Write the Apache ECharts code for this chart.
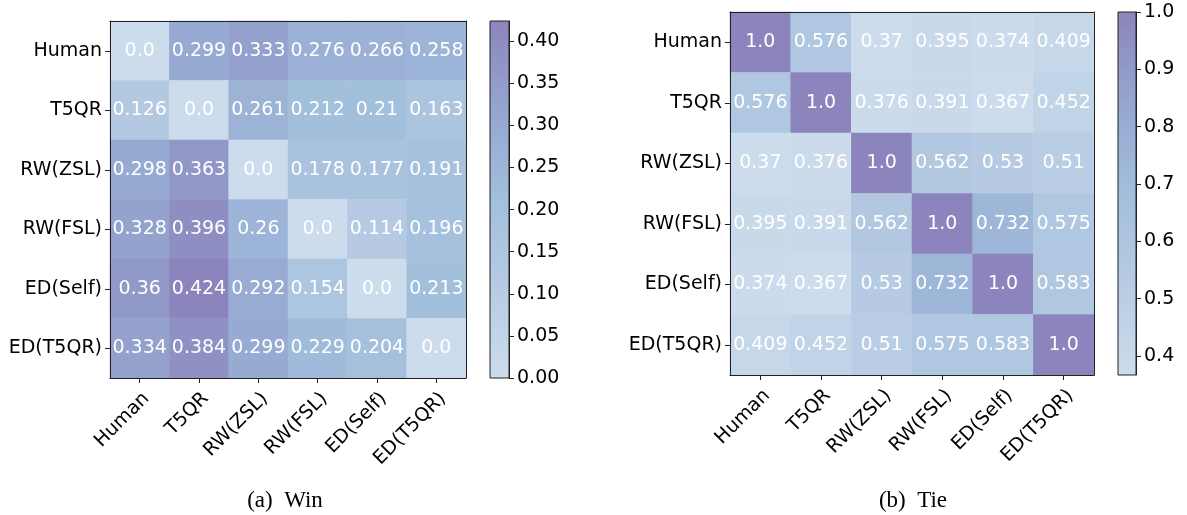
<!DOCTYPE html>
<html>
<head>
<meta charset="utf-8">
<script src="https://cdn.jsdelivr.net/npm/echarts@6/dist/echarts.min.js"></script>
<style>
html,body{margin:0;padding:0;background:#fff;}
#chart{width:1187px;height:515px;}
</style>
</head>
<body>
<div id="chart"></div>
<script>
const categories = ['Human', 'T5QR', 'RW(ZSL)', 'RW(FSL)', 'ED(Self)', 'ED(T5QR)'];

const winValues = [
  [0.0, 0.299, 0.333, 0.276, 0.266, 0.258],
  [0.126, 0.0, 0.261, 0.212, 0.21, 0.163],
  [0.298, 0.363, 0.0, 0.178, 0.177, 0.191],
  [0.328, 0.396, 0.26, 0.0, 0.114, 0.196],
  [0.36, 0.424, 0.292, 0.154, 0.0, 0.213],
  [0.334, 0.384, 0.299, 0.229, 0.204, 0.0]
];

const tieValues = [
  [1.0, 0.576, 0.37, 0.395, 0.374, 0.409],
  [0.576, 1.0, 0.376, 0.391, 0.367, 0.452],
  [0.37, 0.376, 1.0, 0.562, 0.53, 0.51],
  [0.395, 0.391, 0.562, 1.0, 0.732, 0.575],
  [0.374, 0.367, 0.53, 0.732, 1.0, 0.583],
  [0.409, 0.452, 0.51, 0.575, 0.583, 1.0]
];

const winRange = [0, 0.424];
const tieRange = [0.367, 1.0];
const winTicks = [0, 0.05, 0.10, 0.15, 0.20, 0.25, 0.30, 0.35, 0.40];
const tieTicks = [0.4, 0.5, 0.6, 0.7, 0.8, 0.9, 1.0];
const captions = ['(a)  Win', '(b)  Tie'];

const cmap = ['#ccdcec', '#b7cbe3', '#a2bfdc', '#95a6d0', '#8c85bd'];

const FONT = 'DejaVu Sans';
const FS = 19;
const AX = '#222';

function toCells(m) {
  const out = [];
  m.forEach((row, r) => row.forEach((v, c) => out.push([c, r, v])));
  return out;
}
function fmtCell(v) {
  return Number.isInteger(v) ? v.toFixed(1) : String(v);
}

function heatAxes(gridIndex) {
  const xs = [
    {
      type: 'category', gridIndex, data: categories, position: 'bottom', z: 10,
      axisLine: { show: true, lineStyle: { color: AX, width: 1 } },
      axisTick: { show: true, alignWithLabel: true, length: 5, lineStyle: { color: AX } },
      axisLabel: { rotate: 45, margin: 11, verticalAlign: 'top', fontSize: FS, fontFamily: FONT, color: '#000', interval: 0 },
      splitLine: { show: false }
    },
    {
      type: 'category', gridIndex, data: categories, position: 'top', z: 10,
      axisLine: { show: true, lineStyle: { color: AX, width: 1 } },
      axisTick: { show: false }, axisLabel: { show: false }, splitLine: { show: false }
    }
  ];
  const ys = [
    {
      type: 'category', gridIndex, data: categories, inverse: true, position: 'left', z: 10,
      axisLine: { show: true, lineStyle: { color: AX, width: 1 } },
      axisTick: { show: true, alignWithLabel: true, length: 5, lineStyle: { color: AX } },
      axisLabel: { margin: 8, fontSize: FS, fontFamily: FONT, color: '#000', interval: 0 },
      splitLine: { show: false }
    },
    {
      type: 'category', gridIndex, data: categories, inverse: true, position: 'right', z: 10,
      axisLine: { show: true, lineStyle: { color: AX, width: 1 } },
      axisTick: { show: false }, axisLabel: { show: false }, splitLine: { show: false }
    }
  ];
  return { xs, ys };
}

function cbAxes(gridIndex, range, ticks, digits) {
  const x = {
    type: 'category', gridIndex, data: ['cb'], show: false
  };
  const y = {
    type: 'value', gridIndex, min: range[0], max: range[1], position: 'right', z: 10,
    axisLine: { show: true, lineStyle: { color: AX, width: 1 } },
    axisTick: { show: true, length: 5, lineStyle: { color: AX }, customValues: ticks },
    axisLabel: { show: true, margin: 8, fontSize: FS, fontFamily: FONT, color: '#000',
      customValues: ticks, formatter: v => Number(v).toFixed(digits) },
    splitLine: { show: false }
  };
  return { x, y };
}

const h0 = heatAxes(0), h1 = heatAxes(2);
const c0 = cbAxes(1, winRange, winTicks, 2), c1 = cbAxes(3, tieRange, tieTicks, 1);

const xAxis = [h0.xs[0], h0.xs[1], c0.x, h1.xs[0], h1.xs[1], c1.x];
const yAxis = [h0.ys[0], h0.ys[1], c0.y, h1.ys[0], h1.ys[1], c1.y];

function gradStops() {
  return cmap.map((c, i) => ({ offset: i / (cmap.length - 1), color: c }));
}

function cbRender(params, api) {
  const top = api.coord([api.value(0), api.value(2)]);
  const bot = api.coord([api.value(0), api.value(1)]);
  const w = api.size([1, 0])[0];
  return {
    type: 'rect',
    shape: { x: top[0] - w / 2, y: top[1], width: w, height: bot[1] - top[1] },
    style: {
      fill: new echarts.graphic.LinearGradient(0, 1, 0, 0, gradStops()),
      stroke: AX, lineWidth: 1
    }
  };
}

const cellLabel = {
  show: true, color: '#fff', fontSize: FS, fontFamily: FONT,
  formatter: p => fmtCell(p.value[2])
};

const capStyle = { fontFamily: 'Liberation Serif', fontSize: 23, fontWeight: 'normal', color: '#000' };

const option = {
  animation: false,
  backgroundColor: '#fff',
  grid: [
    { left: 110, top: 21, width: 356, height: 357 },
    { left: 490, top: 21, width: 19, height: 357 },
    { left: 730, top: 12, width: 364, height: 363 },
    { left: 1118, top: 12, width: 18, height: 363 }
  ],
  xAxis, yAxis,
  visualMap: [
    { show: false, type: 'continuous', seriesIndex: 0, min: winRange[0], max: winRange[1], inRange: { color: cmap } },
    { show: false, type: 'continuous', seriesIndex: 2, min: tieRange[0], max: tieRange[1], inRange: { color: cmap } }
  ],
  series: [
    { type: 'heatmap', xAxisIndex: 0, yAxisIndex: 0, data: toCells(winValues), label: cellLabel, emphasis: { disabled: true } },
    { type: 'custom', xAxisIndex: 2, yAxisIndex: 2, data: [[0, winRange[0], winRange[1]]], renderItem: cbRender, z: 1 },
    { type: 'heatmap', xAxisIndex: 3, yAxisIndex: 3, data: toCells(tieValues), label: cellLabel, emphasis: { disabled: true } },
    { type: 'custom', xAxisIndex: 5, yAxisIndex: 5, data: [[0, tieRange[0], tieRange[1]]], renderItem: cbRender, z: 1 }
  ],
  title: [
    { text: captions[0], left: 280, top: 484, textAlign: 'center', textStyle: capStyle },
    { text: captions[1], left: 908, top: 484, textAlign: 'center', textStyle: capStyle }
  ]
};

const chart = echarts.init(document.getElementById('chart'), null, { renderer: 'canvas' });
chart.setOption(option);
</script>
</body>
</html>
